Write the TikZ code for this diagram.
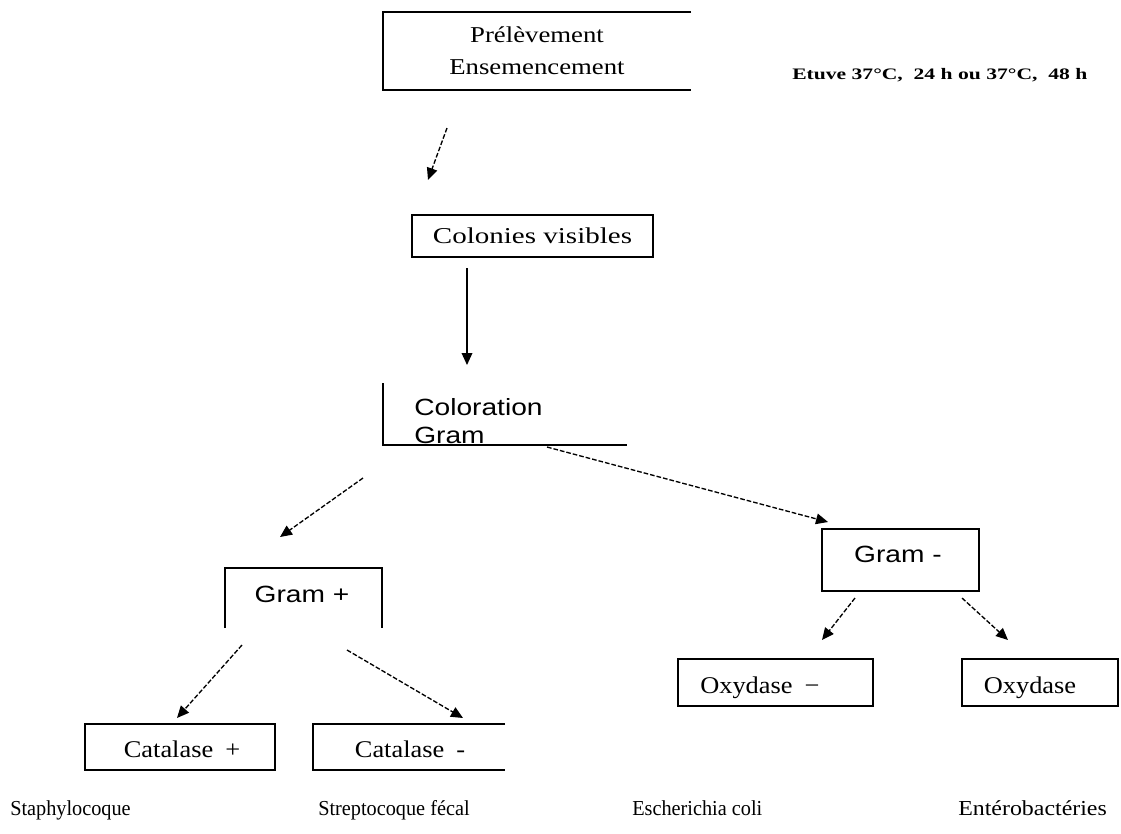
\documentclass[tikz,border=0pt]{standalone}
\usepackage{fontspec}
\setmainfont{Liberation Serif}
\newfontfamily\serifW[FakeStretch=1.18]{Liberation Serif}
\newfontfamily\serifC[FakeStretch=1.28]{Liberation Serif}
\newfontfamily\serifB[FakeStretch=1.1]{Liberation Serif}
\newfontfamily\sansW[FakeStretch=1.2]{Liberation Sans}
\newfontfamily\etuvefont[FakeStretch=1.35]{Liberation Serif}
\newfontfamily\labfont[FakeStretch=0.95]{Liberation Serif}
\newfontfamily\labwide[FakeStretch=1.12]{Liberation Serif}
\usetikzlibrary{arrows.meta}
\begin{document}
\begin{tikzpicture}[x=0.75pt,y=-0.75pt,
  frame/.style={inner sep=0pt, outer sep=0pt},
  edge/.style={line width=1.1pt},
  arr/.style={line width=1pt, -{Triangle[length=9pt,width=8pt]}},
  dsh/.style={arr, dash pattern=on 3.5pt off 1.5pt},
  topt/.style={font=\serifW\fontsize{17}{24}\selectfont, align=center},
  colt/.style={font=\serifC\fontsize{17}{20}\selectfont},
  boxt/.style={font=\serifB\fontsize{18}{22}\selectfont, inner sep=0pt},
  sanst/.style={font=\sansW\fontsize{17.6}{21}\selectfont, inner sep=0pt},
  etut/.style={font=\etuvefont\bfseries\fontsize{12}{14}\selectfont, inner sep=0pt},
  labt/.style={font=\labfont\fontsize{16}{19}\selectfont, inner sep=0pt}
]
\useasboundingbox (0,0) rectangle (1121,833);

% Prelevement box (open on the right)
\node[frame, topt, minimum width=231pt, minimum height=58.5pt] (pre) at (537,51) {Prélèvement\\Ensemencement};
\draw[edge] (pre.north east) -- (pre.north west) -- (pre.south west) -- (pre.south east);

\node[etut, anchor=base west] (etuve) at (792,79) {Etuve 37°C,\ \ 24 h ou 37°C,\ \ 48 h};

% Colonies visibles
\node[frame, colt, draw, edge, minimum width=180.75pt, minimum height=31.5pt] (col) at (532.5,236) {Colonies visibles};

% Coloration Gram (left and bottom sides only)
\node[frame, minimum width=183pt, minimum height=46.5pt] (gram) at (505,414) {};
\draw[edge] (gram.north west) -- (gram.south west) -- (gram.south east);
\node[sanst, anchor=base west] (gramA) at (414,415) {Coloration};
\node[sanst, anchor=base west] (gramB) at (414,443) {Gram};

% Gram + (open at bottom)
\node[frame, minimum width=117.75pt, minimum height=45pt] (gplus) at (303.5,598) {};
\draw[edge] (gplus.south west) -- (gplus.north west) -- (gplus.north east) -- (gplus.south east);
\node[sanst, anchor=base] (gplust) at (302,602) {Gram +};

% Gram -
\node[frame, draw, edge, minimum width=117.75pt, minimum height=46.5pt] (gminus) at (900.5,560) {};
\node[sanst, anchor=base] (gminust) at (898,562) {Gram -};

% Oxydase boxes
\node[frame, draw, edge, minimum width=146.25pt, minimum height=35.25pt] (oxm) at (775.5,682.5) {};
\node[boxt, anchor=base west] (oxmt) at (700,693) {Oxydase\enspace −};
\node[frame, draw, edge, minimum width=117pt, minimum height=35.25pt] (oxp) at (1040,682.5) {};
\node[boxt, anchor=base] (oxpt) at (1030,693) {Oxydase};

% Catalase boxes
\node[frame, draw, edge, minimum width=142.5pt, minimum height=34.5pt] (catp) at (180,747) {};
\node[boxt, anchor=base] (catpt) at (182,757) {Catalase\enspace+};
\node[frame, minimum width=144pt, minimum height=34.5pt] (catm) at (409,747) {};
\draw[edge] (catm.north east) -- (catm.north west) -- (catm.south west) -- (catm.south east);
\node[boxt, anchor=base] (catmt) at (410,757) {Catalase\enspace-};

% Bottom labels
\node[labt, anchor=base west] (l1) at (10,815) {Staphylocoque};
\node[labt, anchor=base west] (l2) at (318,815) {Streptocoque fécal};
\node[labt, anchor=base west] (l3) at (632,815) {Escherichia coli};
\node[labt, font=\labwide\fontsize{16}{19}\selectfont, anchor=base west] (l4) at (958,815) {Entérobactéries};

% Connectors
\draw[dsh] ([shift={(-90,38)}]pre.south) -- ([shift={(-104.5,-35)}]col.north);
\draw[arr] ([shift={(-65.5,11)}]col.south) -- ([shift={(-38,-18)}]gram.north);
\draw[dsh] ([shift={(-20,33)}]gram.south west) -- ([shift={(-23.5,-31)}]gplus.north);
\draw[dsh] ([shift={(42,2)}]gram.south) -- ([shift={(6,-7)}]gminus.north west);
\draw[dsh] ([shift={(-45.5,7)}]gminus.south) -- ([shift={(46.5,-19)}]oxm.north);
\draw[dsh] ([shift={(-17,7)}]gminus.south east) -- ([shift={(-32,-19)}]oxp.north);
\draw[dsh] ([shift={(17,17)}]gplus.south west) -- ([shift={(-3,-6)}]catp.north);
\draw[dsh] ([shift={(-35,22)}]gplus.south east) -- ([shift={(54,-6)}]catm.north);
\end{tikzpicture}
\end{document}
